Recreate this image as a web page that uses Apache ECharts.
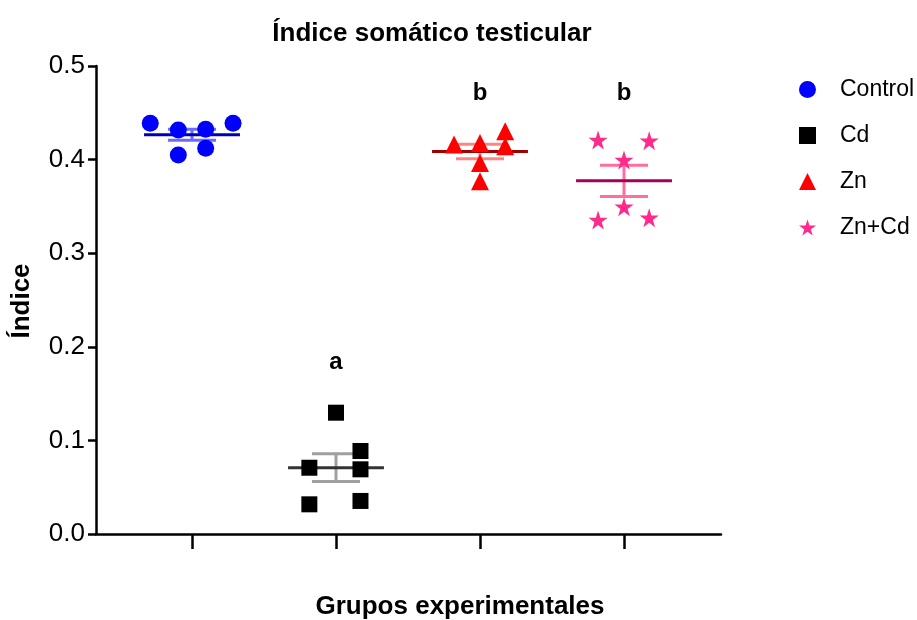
<!DOCTYPE html>
<html>
<head>
<meta charset="utf-8">
<script src="https://cdn.jsdelivr.net/npm/echarts@6/dist/echarts.min.js"></script>
<style>
  html, body { margin: 0; padding: 0; background: #fff; }
  #chart { width: 917px; height: 620px; }
</style>
</head>
<body>
<div id="chart"></div>
<script>
// Testicular somatic index per experimental group (one value per animal)
const groups = ['Control', 'Cd', 'Zn', 'Zn+Cd'];
const controlValues = [0.4388, 0.4316, 0.4049, 0.4324, 0.4121, 0.4388];
const cdValues      = [0.1296, 0.0887, 0.0691, 0.0708, 0.0317, 0.0353];
const znValues      = [0.4160, 0.4178, 0.4302, 0.4142, 0.3964, 0.3768];
const znCdValues    = [0.4209, 0.4202, 0.3996, 0.3497, 0.3355, 0.3379];
// horizontal spread of the dots inside each column (fraction of a column)
const controlSpread = [-0.29, -0.095, -0.095, 0.095, 0.095, 0.285];
const cdSpread      = [0, 0.17, 0.17, -0.185, -0.185, 0.17];
const znSpread      = [-0.18, 0, 0.175, 0.175, 0, 0];
const znCdSpread    = [-0.18, 0.175, 0, 0, -0.18, 0.175];
// significance letters and the height they are written at
const letters = ['', 'a', 'b', 'b'];
const letterHeights = [0, 0.183, 0.471, 0.471];
const yTicks = [0, 0.1, 0.2, 0.3, 0.4, 0.5];

const seriesValues = [controlValues, cdValues, znValues, znCdValues];
const seriesSpread = [controlSpread, cdSpread, znSpread, znCdSpread];

const pointColors = ['#0000ff', '#000000', '#ff0000', '#ff2a8c'];
const meanColors  = ['#0000b0', '#333333', '#a00000', '#a3005c'];
const semColors   = ['#6b6bff', '#a0a0a0', '#ff8585', '#ff6e9e'];
const symbols = [
  'circle', 'rect', 'triangle',
  'path://M50,0 L61.2,34.5 L97.6,34.5 L68.2,55.9 L79.4,90.5 L50,69.1 L20.6,90.5 L31.8,55.9 L2.4,34.5 L38.8,34.5 Z'
];
const symbolSizes = [17, 16, 18, 19];

function mean(a) { return a.reduce((s, v) => s + v, 0) / a.length; }
function sem(a) {
  const m = mean(a);
  const v = a.reduce((s, x) => s + (x - m) * (x - m), 0) / (a.length - 1);
  return Math.sqrt(v) / Math.sqrt(a.length);
}

const summary = seriesValues.map((vals, i) => [i + 1, mean(vals), sem(vals), i]);

const chart = echarts.init(document.getElementById('chart'), null, { renderer: 'canvas' });

const font = 'Liberation Sans, Arial, sans-serif';

// mean line with SEM whiskers for each group
const statsSeries = {
  type: 'custom',
  name: 'stats',
  z: 2,
  silent: true,
  data: summary,
  renderItem: function (params, api) {
    const x = api.value(0), m = api.value(1), s = api.value(2), g = api.value(3);
    const unit = api.size([1, 0])[0];
    const c = api.coord([x, m]);
    const hi = api.coord([x, m + s]);
    const lo = api.coord([x, m - s]);
    const wMean = unit * 0.333, wSem = unit * 0.167;
    const semStyle = { stroke: semColors[g], lineWidth: 3 };
    return {
      type: 'group',
      children: [
        { type: 'line', shape: { x1: c[0], y1: hi[1], x2: c[0], y2: lo[1] }, style: semStyle },
        { type: 'line', shape: { x1: c[0] - wSem, y1: hi[1], x2: c[0] + wSem, y2: hi[1] }, style: semStyle },
        { type: 'line', shape: { x1: c[0] - wSem, y1: lo[1], x2: c[0] + wSem, y2: lo[1] }, style: semStyle },
        { type: 'line', shape: { x1: c[0] - wMean, y1: c[1], x2: c[0] + wMean, y2: c[1] },
          style: { stroke: meanColors[g], lineWidth: 3 } }
      ]
    };
  }
};

const pointSeries = groups.map((name, i) => ({
  type: 'scatter',
  name: name,
  z: 3,
  symbol: symbols[i],
  symbolSize: symbolSizes[i],
  itemStyle: { color: pointColors[i], opacity: 1 },
  data: seriesValues[i].map((v, k) => [i + 1 + seriesSpread[i][k], v])
}));

// significance letters written above the groups
const letterSeries = {
  type: 'custom',
  name: 'letters',
  silent: true,
  z: 4,
  data: letters.map((t, i) => [i + 1, letterHeights[i], i]),
  renderItem: function (params, api) {
    const p = api.coord([api.value(0), api.value(1)]);
    const t = letters[api.value(2)];
    return {
      type: 'text',
      x: p[0], y: p[1],
      style: {
        text: t, fontFamily: font, fontSize: 24, fontWeight: 'bold', fill: '#000',
        textAlign: 'center', textVerticalAlign: 'middle'
      }
    };
  }
};

chart.setOption({
  animation: false,
  backgroundColor: '#fff',
  grid: { left: 96, right: 196, top: 66, bottom: 86, containLabel: false },
  xAxis: {
    type: 'value',
    min: 1 - 96 / 144,
    max: 4 + 97 / 144,
    axisLine: { onZero: false, lineStyle: { color: '#000', width: 2.5 } },
    axisTick: { show: true, customValues: [1, 2, 3, 4], length: 15, lineStyle: { color: '#000', width: 2.5 } },
    axisLabel: { show: false },
    splitLine: { show: false }
  },
  yAxis: {
    type: 'value',
    min: yTicks[0],
    max: yTicks[yTicks.length - 1],
    interval: 0.1,
    axisLine: { show: true, lineStyle: { color: '#000', width: 2.5 } },
    axisTick: { show: true, length: 8, lineStyle: { color: '#000', width: 2.5 } },
    axisLabel: {
      formatter: v => v.toFixed(1),
      fontFamily: font, fontSize: 26, color: '#000', margin: 11
    },
    splitLine: { show: false }
  },
  legend: {
    data: groups,
    orient: 'vertical',
    left: 794,
    top: 73,
    itemWidth: 17,
    itemHeight: 17,
    itemGap: 23,
    textStyle: {
      fontFamily: font, fontSize: 23, color: '#000', lineHeight: 23,
      padding: [0, 0, 0, 19]
    }
  },
  graphic: [
    {
      type: 'text', x: 432, y: 34,
      style: {
        text: 'Índice somático testicular', fontFamily: font, fontSize: 26, fontWeight: 'bold',
        fill: '#000', textAlign: 'center', textVerticalAlign: 'middle'
      }
    },
    {
      type: 'text', x: 460, y: 607,
      style: {
        text: 'Grupos experimentales', fontFamily: font, fontSize: 26, fontWeight: 'bold',
        fill: '#000', textAlign: 'center', textVerticalAlign: 'middle'
      }
    },
    {
      type: 'text', x: 22, y: 301, rotation: Math.PI / 2,
      style: {
        text: 'Índice', fontFamily: font, fontSize: 26, fontWeight: 'bold', fill: '#000',
        textAlign: 'center', textVerticalAlign: 'middle'
      }
    }
  ],
  series: [statsSeries, ...pointSeries, letterSeries]
});
</script>
</body>
</html>
